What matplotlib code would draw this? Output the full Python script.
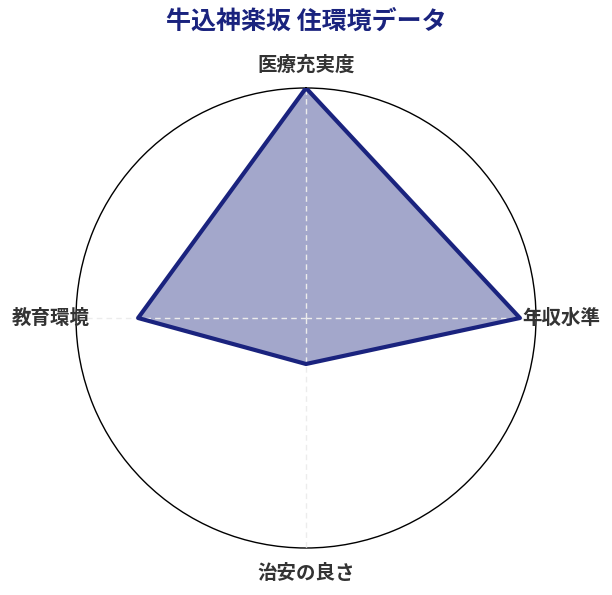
import matplotlib
matplotlib.use('Agg')

import matplotlib.pyplot as plt
import numpy as np

plt.rcParams['font.family'] = ['Noto Sans CJK JP', 'DejaVu Sans']

# Radar data (0-100 scale)
categories = ['医療充実度', '年収水準', '治安の良さ', '教育環境']
values = [100, 93, 20, 73]
title = '牛込神楽坂 住環境データ'

NAVY = '#1a237e'
LABEL = '#333333'

fig = plt.figure(figsize=(6.12, 5.95), dpi=100)
ax = fig.add_axes([76 / 612, 47 / 595, 460 / 612, 460 / 595], projection='polar')
ax.set_theta_zero_location('N')
ax.set_theta_direction(-1)

angles = np.linspace(0, 2 * np.pi, len(categories), endpoint=False)
closed_a = np.append(angles, angles[0])
closed_v = np.append(values, values[0])

ax.fill(closed_a, closed_v, color=NAVY, alpha=0.4, zorder=2)
ax.plot(closed_a, closed_v, color=NAVY, linewidth=3, zorder=3)

ax.set_ylim(0, 100)
ax.set_yticks([])
ax.set_xticks(angles)
ax.set_xticklabels([])
ax.tick_params(axis='x', length=0)
ax.xaxis.grid(True, color='#ececec', linestyle=(0, (4, 3)), linewidth=1, zorder=4)
ax.set_axisbelow(False)
ax.spines['polar'].set_color('black')
ax.spines['polar'].set_linewidth(1)

# Category labels
label_pos = [(110, 'center', 'center'), (94, 'left', 'center'),
             (111, 'center', 'center'), (94, 'right', 'center')]
for ang, name, (r, ha, va) in zip(angles, categories, label_pos):
    ax.text(ang, r, name, ha=ha, va=va, fontsize=14, fontweight='bold',
            color=LABEL, clip_on=False, zorder=5)

fig.text(0.5, 1 - 22 / 595, title, ha='center', va='center',
         fontsize=18, fontweight='bold', color=NAVY)

fig.savefig('out.png', dpi=100, facecolor='white')
